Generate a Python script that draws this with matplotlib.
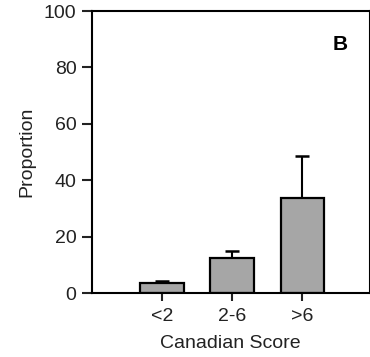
import matplotlib
matplotlib.use('Agg')
import matplotlib.pyplot as plt

# data
categories = ['<2', '2-6', '>6']
positions = [1, 2, 3]
proportion = [3.5, 12.5, 33.8]
upper_err = [0.6, 2.5, 14.9]

plt.rcParams['font.family'] = ['Liberation Sans', 'DejaVu Sans']

fig = plt.figure(figsize=(3.70, 3.57), dpi=100)
ax = fig.add_axes([92 / 370, 1 - 293 / 357, 277.5 / 370, 282 / 357])

ax.bar(positions, proportion, width=0.62, color='#a6a6a6', edgecolor='black',
       linewidth=1.6, zorder=2)
ax.errorbar(positions, proportion, yerr=[[0, 0, 0], upper_err], fmt='none',
            ecolor='black', elinewidth=1.5, capsize=5, capthick=1.8, zorder=1)

ax.set_xlim(0, 3.96)
ax.set_ylim(0, 100)
ax.set_xticks(positions)
ax.set_xticklabels(categories)
ax.set_yticks([0, 20, 40, 60, 80, 100])

for side in ['left', 'bottom', 'top', 'right']:
    ax.spines[side].set_linewidth(1.5)
ax.tick_params(axis='y', length=7.2, width=1.5, labelsize=14, pad=4, colors='#222222')
ax.tick_params(axis='x', length=6, width=1.5, labelsize=14, pad=5, colors='#222222')

ax.set_ylabel('Proportion', fontsize=14, labelpad=6, color='#222222')
ax.set_xlabel('Canadian Score', fontsize=14, labelpad=7, color='#222222')

ax.text(0.895, 0.881, 'B', transform=ax.transAxes, fontsize=15,
        fontweight='bold', ha='center', va='center')

fig.savefig('out.png', dpi=100)
